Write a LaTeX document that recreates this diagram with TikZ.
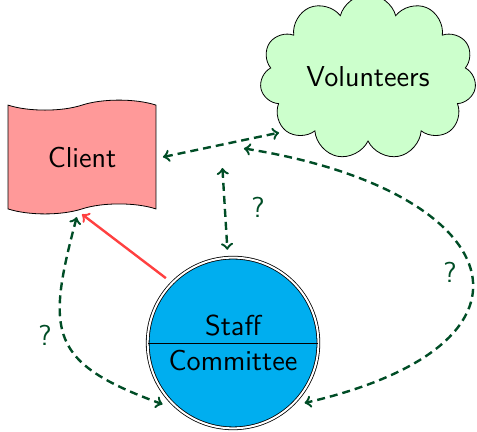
\documentclass[tikz,border=0pt]{standalone}
\usepackage{xcolor}
\usepackage{tikz}
\usetikzlibrary{shapes.symbols,shapes.multipart}

\definecolor{relgreen}{RGB}{0,77,38}
\definecolor{clientred}{RGB}{255,153,153}
\definecolor{volgreen}{RGB}{204,255,204}
\definecolor{staffblue}{RGB}{0,174,239}
\definecolor{linkred}{RGB}{255,64,64}

\begin{document}
\begin{tikzpicture}[font=\Large\sffamily,
  rel/.style={relgreen,very thick,dash pattern=on 4pt off 2.5pt,<->,>=to},
  ask/.style={relgreen}]
\useasboundingbox (0,0) rectangle (8.382,7.574);

\node (client) at (1.441,4.815)[draw,tape,fill=clientred,minimum width=2.6cm,minimum height=2cm,outer sep=3.5pt]{Client};

\node (volunteers) at (6.467,6.22)[draw,cloud,cloud puffs=11,aspect=1.5,fill=volgreen,minimum width=3.8cm,minimum height=2.42cm,outer sep=3pt]{Volunteers};

\node (staff) at (4.095,1.547)[draw,circle split,double,double distance=1pt,fill=staffblue,minimum size=3cm,outer sep=4pt]{Staff \nodepart{lower} Committee};

\draw[rel] (client.east) -- (volunteers.212) node[midway,circle,minimum size=22pt,inner sep=0pt] (mid) {};

\draw[rel] (mid) -- (staff);
\draw[rel] (mid) to[out=-9,in=13,looseness=2.6] (staff.-40);
\draw[rel] (client.-95) to[out=-105,in=160,looseness=1.5] (staff.221);

\draw[linkred,very thick,->,>=to] (staff.136) -- (client.south);

\node[ask] (q1) at (4.534,3.937){?};
\node[ask] (q2) at (7.909,2.794){?};
\node[ask] (q3) at (0.791,1.687){?};

\end{tikzpicture}
\end{document}
